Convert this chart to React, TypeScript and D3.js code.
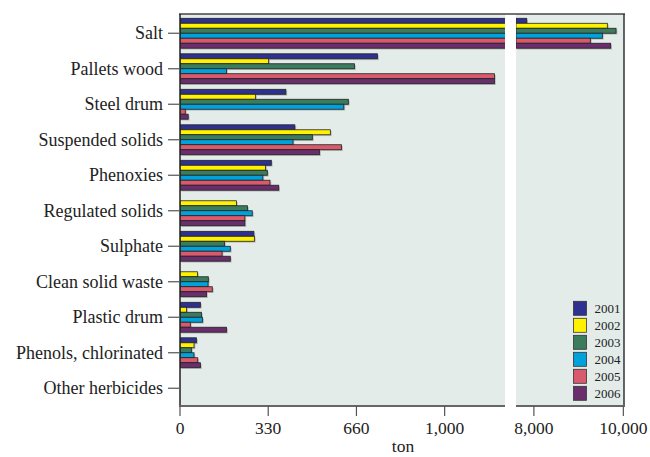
import * as React from 'react';
import * as d3 from 'd3';

const categories = [
  'Salt', 'Pallets wood', 'Steel drum', 'Suspended solids', 'Phenoxies',
  'Regulated solids', 'Sulphate', 'Clean solid waste', 'Plastic drum',
  'Phenols, chlorinated', 'Other herbicides',
];
const years = ['2001', '2002', '2003', '2004', '2005', '2006'];
const values2001 = [7840, 746, 400, 434, 345, 0, 279, 0, 77, 62, 0];
const values2002 = [9642, 335, 285, 568, 323, 213, 281, 66, 25, 53, 0];
const values2003 = [9837, 659, 636, 500, 330, 255, 168, 107, 81, 43, 0];
const values2004 = [9531, 176, 619, 427, 313, 273, 190, 106, 85, 53, 0];
const values2005 = [9262, 1188, 20, 610, 340, 245, 159, 122, 39, 67, 0];
const values2006 = [9717, 1188, 31, 527, 373, 245, 190, 100, 176, 77, 0];
const leftTicks = [0, 1000 / 3, 2000 / 3, 1000];
const leftTickLabels = ['0', '330', '660', '1,000'];
const rightTicks = [8000, 10000];
const rightTickLabels = ['8,000', '10,000'];

const series = [values2001, values2002, values2003, values2004, values2005, values2006];
const colors = ['#2f3190', '#fff200', '#3b7c5c', '#00a2dc', '#d95a6c', '#6a2e6c'];

const W = 650;
const H = 457;
const top = 14;
const bottom = 406;
const font = '"Liberation Serif", "Times New Roman", serif';

export default function App() {
  const xl = d3.scaleLinear().domain([0, 1228]).range([180, 505]);
  const xr = d3.scaleLinear().domain([7600, 10015]).range([516, 624]);
  const y0 = d3.scaleBand<string>().domain(categories).range([15.5, bottom]);
  const y1 = d3.scaleBand<string>().domain(years).range([2.8, y0.bandwidth() - 2.8]);

  const bars = (x: d3.ScaleLinear<number, number>, clip: string, shadow: boolean) =>
    categories.map((c, ci) =>
      series.map((vals, si) => {
        const v = vals[ci];
        const [d0] = x.domain();
        if (v <= d0) return null;
        const x0 = x(Math.max(0, d0));
        const w = x(v) - x0;
        const yy = (y0(c) ?? 0) + (y1(years[si]) ?? 0);
        return shadow ? (
          <rect key={`s${ci}-${si}`} x={x0 + 1.3} y={yy + 1.3} width={w} height={y1.bandwidth()}
            fill="#8a8a8a" opacity={0.55} clipPath={clip} />
        ) : (
          <rect key={`b${ci}-${si}`} x={x0} y={yy} width={w} height={y1.bandwidth()}
            fill={colors[si]} stroke="#222" strokeWidth={0.8} clipPath={clip} />
        );
      }),
    );

  return (
    <svg width={W} height={H} style={{ position: 'absolute', left: 0, top: 0, fontFamily: font }}>
      <defs>
        <clipPath id="clipL"><rect x={180} y={top} width={505 - 180} height={bottom - top} /></clipPath>
        <clipPath id="clipR"><rect x={516} y={top} width={624 - 516 + 2} height={bottom - top} /></clipPath>
      </defs>
      <rect x={0} y={0} width={W} height={H} fill="#fff" />
      <rect x={180} y={top} width={505 - 180} height={bottom - top} fill="#e3ece9" />
      <rect x={516} y={top} width={624 - 516} height={bottom - top} fill="#e3ece9" />

      {bars(xl, 'url(#clipL)', true)}
      {bars(xr, 'url(#clipR)', true)}
      {bars(xl, 'url(#clipL)', false)}
      {bars(xr, 'url(#clipR)', false)}

      {/* frame */}
      <line x1={179} x2={625} y1={top} y2={top} stroke="#444" strokeWidth={1.5} />
      <line x1={624} x2={624} y1={top} y2={bottom} stroke="#333" strokeWidth={1.5} />
      <line x1={180} x2={180} y1={top} y2={bottom} stroke="#222" strokeWidth={1.5} />
      <line x1={179} x2={505} y1={bottom} y2={bottom} stroke="#666" strokeWidth={2.2} />
      <line x1={516} x2={625} y1={bottom} y2={bottom} stroke="#666" strokeWidth={2.2} />

      {/* category axis */}
      {categories.map((c) => {
        const cy = (y0(c) ?? 0) + y0.bandwidth() / 2;
        return (
          <g key={c}>
            <line x1={168} x2={179} y1={cy} y2={cy} stroke="#555" strokeWidth={1.2} />
            <text x={163} y={cy} dy="0.33em" textAnchor="end" fontSize={18} fill="#222">{c}</text>
          </g>
        );
      })}

      {/* value axis */}
      {leftTicks.map((t, i) => (
        <g key={`lt${i}`}>
          <line x1={xl(t)} x2={xl(t)} y1={bottom} y2={416} stroke="#555" strokeWidth={1.2} />
          <text x={xl(t)} y={434} textAnchor="middle" fontSize={17.5} fill="#222">{leftTickLabels[i]}</text>
        </g>
      ))}
      {rightTicks.map((t, i) => (
        <g key={`rt${i}`}>
          <line x1={xr(t)} x2={xr(t)} y1={bottom} y2={416} stroke="#555" strokeWidth={1.2} />
          <text x={xr(t)} y={434} textAnchor="middle" fontSize={17.5} fill="#222">{rightTickLabels[i]}</text>
        </g>
      ))}
      <text x={403} y={452} textAnchor="middle" fontSize={17.5} fill="#222">ton</text>

      {/* legend */}
      {years.map((yr, i) => {
        const cy = 308.3 + i * 17;
        return (
          <g key={yr}>
            <rect x={573.5} y={cy - 7} width={13} height={14} fill={colors[i]} stroke="#333" strokeWidth={0.8} />
            <text x={594.5} y={cy} dy="0.35em" fontSize={13} fill="#222">{yr}</text>
          </g>
        );
      })}
    </svg>
  );
}
